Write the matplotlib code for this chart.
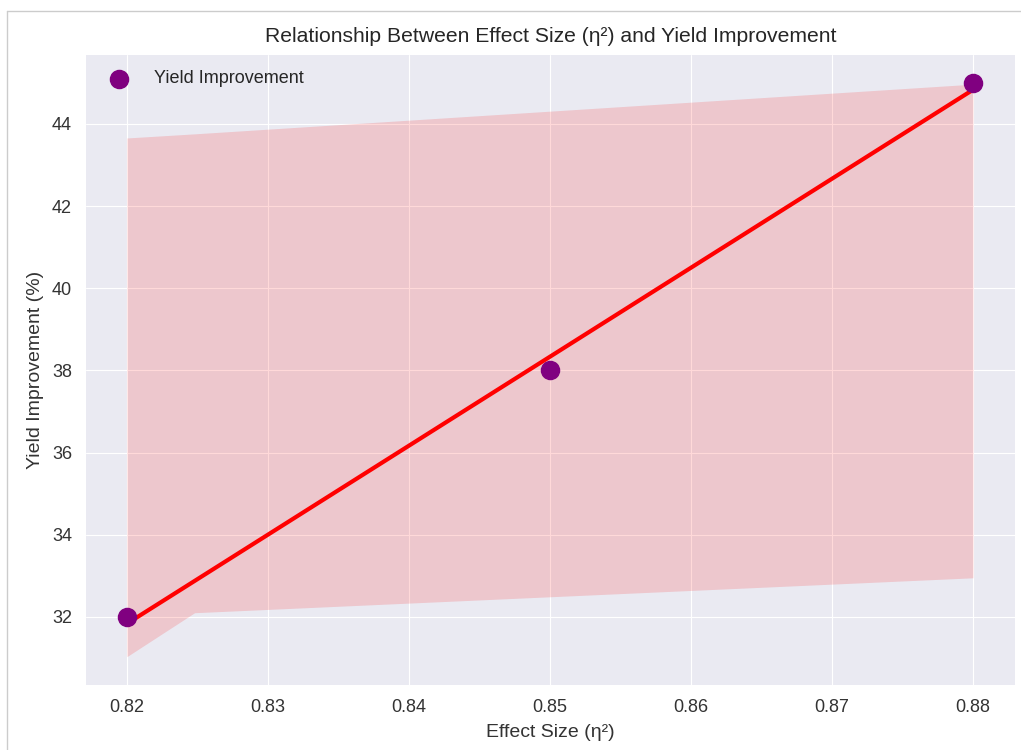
import matplotlib
matplotlib.use("Agg")
import matplotlib.pyplot as plt
import numpy as np
from matplotlib.lines import Line2D

plt.style.use('seaborn-v0_8-darkgrid')
plt.rcParams['font.family'] = ['Liberation Sans', 'DejaVu Sans']

# data
effect_size = [0.82, 0.85, 0.88]
yield_improvement = [32, 38, 45]

# confidence band
band_x = [0.82, 0.8248, 0.88]
band_lo = [31.03, 32.10, 32.95]
band_hi = [43.66, 43.76, 44.97]

fig = plt.figure(figsize=(10.21, 7.5), dpi=100)
ax = fig.add_axes([86 / 1021, 1 - 685 / 750, (1015 - 86) / 1021, (685 - 55) / 750])

ax.fill_between(band_x, band_lo, band_hi, color='red', alpha=0.15, linewidth=0)

slope, intercept = np.polyfit(effect_size, yield_improvement, 1)
fit_x = np.array([min(effect_size), max(effect_size)])
ax.plot(fit_x, slope * fit_x + intercept, color='red', linewidth=3, zorder=3)

ax.scatter(effect_size, yield_improvement, s=170, color='purple', zorder=4,
           label='Yield Improvement')

ax.set_xlim(0.8171, 0.88298)
ax.set_ylim(30.34, 45.68)
ax.set_yticks([32, 34, 36, 38, 40, 42, 44])
ax.set_xticks([0.82, 0.83, 0.84, 0.85, 0.86, 0.87, 0.88])

ax.set_title('Relationship Between Effect Size (η²) and Yield Improvement', fontsize=15.2,
             color='#262626', pad=9)
ax.set_xlabel('Effect Size (η²)', fontsize=14, color='#333333', labelpad=6)
ax.set_ylabel('Yield Improvement (%)', fontsize=14, color='#333333', labelpad=6)
ax.tick_params(labelsize=13, pad=10, labelcolor='#333333')
ax.legend(loc='upper left', fontsize=13, frameon=False, borderaxespad=0.45,
          handletextpad=0.9)

# thin border left/top of the screenshot
fig.add_artist(Line2D([7 / 1021, 7 / 1021], [0, 1 - 11 / 750], color='#cccccc', lw=1,
                      transform=fig.transFigure))
fig.add_artist(Line2D([7 / 1021, 1], [1 - 11 / 750, 1 - 11 / 750], color='#cccccc', lw=1,
                      transform=fig.transFigure))

fig.savefig('out.png', dpi=100)
